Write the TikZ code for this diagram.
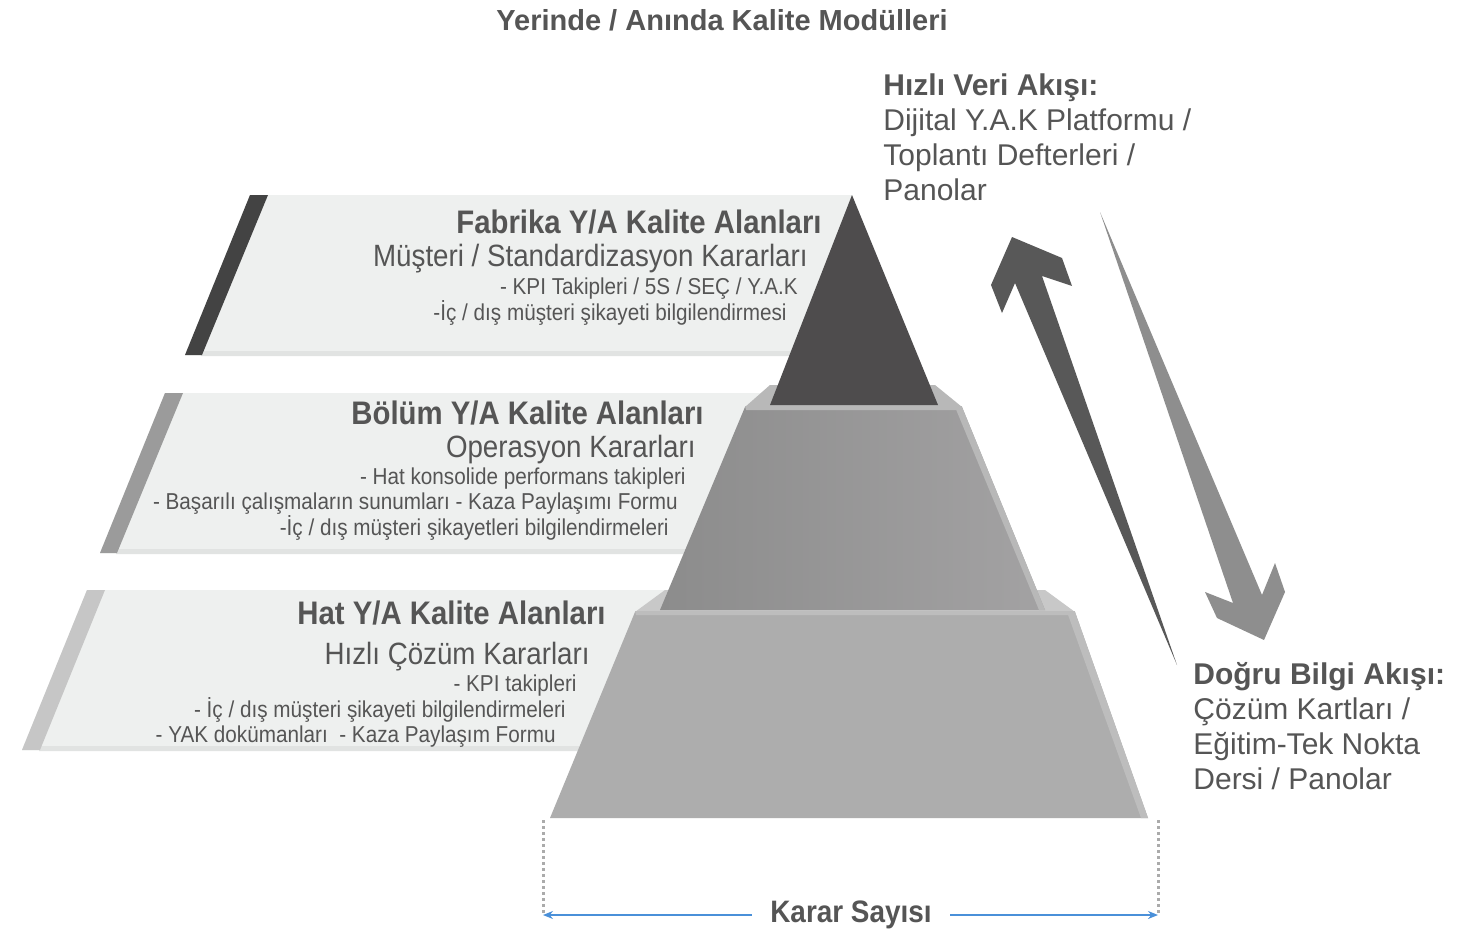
\documentclass[tikz,border=0pt]{standalone}
\usepackage{fontspec}
\setmainfont{Liberation Sans}
\newfontfamily\condfont[FakeStretch=0.9]{Liberation Sans}
\usetikzlibrary{arrows.meta}

\definecolor{txtgray}{HTML}{555555}
\definecolor{panelfill}{HTML}{EEF0EF}
\definecolor{paneledge}{HTML}{E1E3E2}
\definecolor{stripA}{HTML}{434343}
\definecolor{stripB}{HTML}{9B9B9B}
\definecolor{stripC}{HTML}{C6C6C6}
\definecolor{apexgray}{HTML}{4E4C4D}
\definecolor{midleft}{HTML}{8C8C8C}
\definecolor{midright}{HTML}{A3A2A3}
\definecolor{midledge}{HTML}{B8B8B8}
\definecolor{basegray}{HTML}{ADADAD}
\definecolor{baseledge}{HTML}{C8C8C8}
\definecolor{bevel}{HTML}{BDBDBD}
\definecolor{uparrow}{HTML}{585858}
\definecolor{downarrow}{HTML}{8E8E8E}
\definecolor{dimblue}{HTML}{4A90D9}
\definecolor{dotgray}{HTML}{ABABAB}

\begin{document}
\begin{tikzpicture}[
    x=0.5pt, y=-0.5pt,
    every node/.style={inner sep=0pt, text=txtgray},
    title/.style={font=\bfseries\fontsize{14.5}{17}\selectfont},
    head/.style={anchor=east, text height=0.72em, text depth=0pt, font=\condfont\bfseries\fontsize{16.3}{18}\selectfont},
    sub/.style={anchor=east, text height=0.72em, text depth=0pt, font=\condfont\fontsize{15.4}{17}\selectfont},
    item/.style={anchor=east, text height=0.72em, text depth=0pt, font=\condfont\fontsize{11.5}{13}\selectfont},
    flow/.style={anchor=north west, align=left, font=\fontsize{15}{17.5}\selectfont},
    dimline/.style={dotgray, line width=1.5pt, dash pattern=on 1.5pt off 1.5pt},
    dimarrow/.style={-{Stealth[length=5pt,width=4pt]}, dimblue, line width=0.7pt, shorten <=9pt}
]
\useasboundingbox[fill=white] (0,0) rectangle (1471,931);

% title
\node[title] (title) at (722,20) {Yerinde / Anında Kalite Modülleri};

% panels
\fill[panelfill] (250,195) -- (852,195) -- (852,355) -- (185,355) -- cycle;
\fill[paneledge] (203,351) -- (852,351) -- (852,356) -- (201,356) -- cycle;
\fill[stripA] (250,195) -- (268,195) -- (202,355) -- (185,355) -- cycle;

\fill[panelfill] (165,393) -- (852,393) -- (852,553) -- (100,553) -- cycle;
\fill[paneledge] (118,549) -- (852,549) -- (852,554) -- (116,554) -- cycle;
\fill[stripB] (165,393) -- (183,393) -- (117,553) -- (100,553) -- cycle;

\fill[panelfill] (87,590) -- (852,590) -- (852,750) -- (22,750) -- cycle;
\fill[paneledge] (41,746) -- (852,746) -- (852,751) -- (39,751) -- cycle;
\fill[stripC] (87,590) -- (105,590) -- (40,750) -- (22,750) -- cycle;

% pyramid
\fill[baseledge] (635,612) -- (665,590) -- (1045,590) -- (1075,612) -- cycle;
\fill[basegray] (635,612) -- (1075,612) -- (1148,818) -- (550,818) -- cycle;
\fill[bevel] (1067,612) -- (1075,612) -- (1148,818) -- (1141,818) -- cycle;
\fill[bevel] (635,611) -- (1075,611) -- (1074,615) -- (636,615) -- cycle;

\fill[midledge] (745,407) -- (770,385) -- (935,385) -- (962,407) -- cycle;
\shade[left color=midleft, right color=midright] (745,407) -- (962,407) -- (1045,610) -- (660,610) -- cycle;
\fill[midledge] (955,407) -- (962,407) -- (1045,610) -- (1039,610) -- cycle;
\fill[midledge] (745,406) -- (962,406) -- (961,410) -- (746,410) -- cycle;

\fill[apexgray] (852,195) -- (938,405) -- (770,405) -- cycle;

% flow arrows
\fill[uparrow] (1012,237) -- (1062,258) -- (1072,286) -- (1042,276)
    -- (1177,665) -- (1015,283) -- (1002,313) -- (991,285) -- cycle;
\fill[downarrow] (1100,212) -- (1262,595) -- (1275,563) -- (1285,592)
    -- (1264,640) -- (1217,618) -- (1205,592) -- (1233,603) -- cycle;

% panel texts
\node[head] (fabHead) at (822,226) {Fabrika Y/A Kalite Alanları};
\node[sub]  (fabSub)  at (808,259) {Müşteri / Standardizasyon Kararları};
\node[item] (fabA)    at (798,287) {- KPI Takipleri / 5S / SEÇ / Y.A.K};
\node[item] (fabB)    at (787,313) {-İç / dış müşteri şikayeti bilgilendirmesi};

\node[head] (bolHead) at (704,417) {Bölüm Y/A Kalite Alanları};
\node[sub]  (bolSub)  at (696,450) {Operasyon Kararları};
\node[item] (bolA)    at (686,477) {- Hat konsolide performans takipleri};
\node[item] (bolB)    at (678,502) {- Başarılı çalışmaların sunumları - Kaza Paylaşımı Formu};
\node[item] (bolC)    at (669,528) {-İç / dış müşteri şikayetleri bilgilendirmeleri};

\node[head] (hatHead) at (606,617) {Hat Y/A Kalite Alanları};
\node[sub]  (hatSub)  at (590,657) {Hızlı Çözüm Kararları};
\node[item] (hatA)    at (577,684) {- KPI takipleri};
\node[item] (hatB)    at (566,710) {- İç / dış müşteri şikayeti bilgilendirmeleri};
\node[item] (hatC)    at (556,735) {- YAK dokümanları~ - Kaza Paylaşım Formu};

% flow texts
\node[flow] (fastFlow) at (883,73) {\textbf{Hızlı Veri Akışı:}\\Dijital Y.A.K Platformu /\\Toplantı Defterleri /\\Panolar};
\node[flow] (trueFlow) at (1193,662) {\textbf{Doğru Bilgi Akışı:}\\Çözüm Kartları /\\Eğitim-Tek Nokta\\Dersi / Panolar};

% decision count
\coordinate (baseL) at (543,820);
\coordinate (baseR) at (1158,820);
\coordinate (dimL) at (543,915);
\coordinate (dimR) at (1158,915);
\node[font=\condfont\bfseries\fontsize{15.5}{18}\selectfont, text height=0.72em, text depth=0pt] (karar) at (851,915) {Karar Sayısı};
\draw[dimline] (baseL) -- (dimL);
\draw[dimline] (baseR) -- (dimR);
\draw[dimarrow] (karar) -- (dimL);
\draw[dimarrow] (karar) -- (dimR);

\end{tikzpicture}
\end{document}
